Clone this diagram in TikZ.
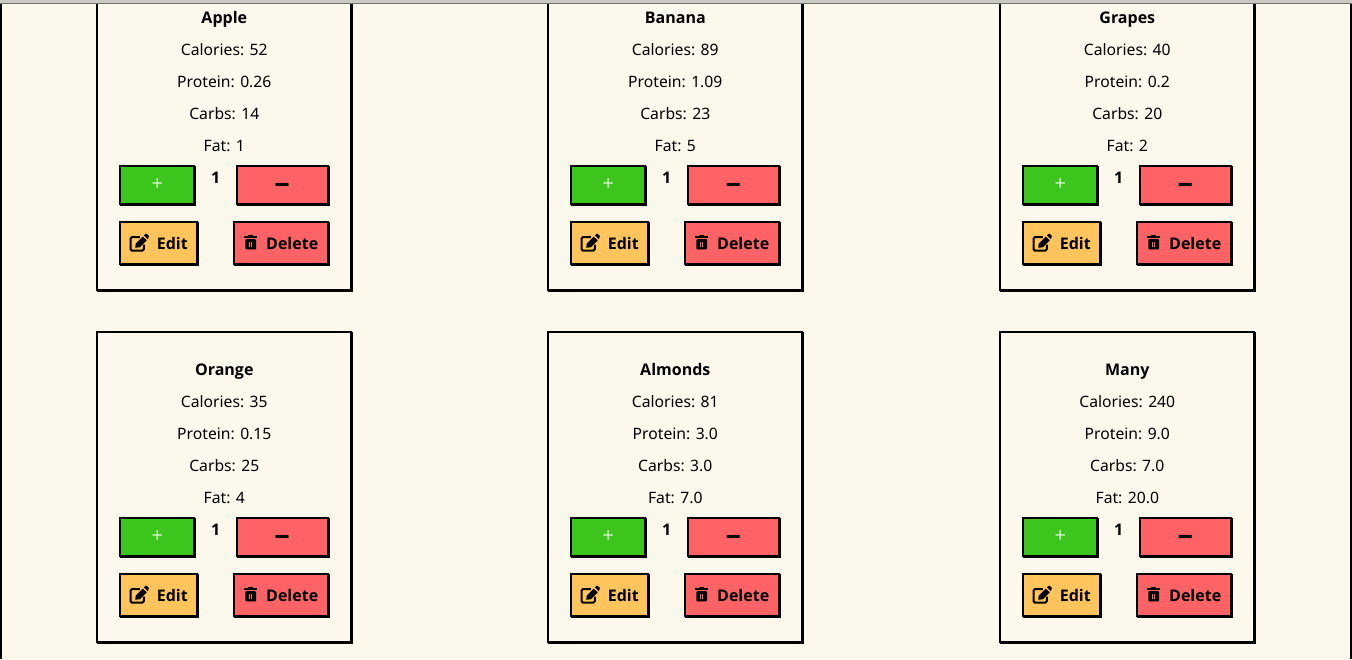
\documentclass[tikz,border=0pt]{standalone}
\usepackage{fontspec}
\setmainfont{Noto Sans}
\newfontfamily\heavysans{Open Sans}
\usetikzlibrary{shadows, positioning}

\definecolor{pagebg}{HTML}{FDF8EC}
\definecolor{addgreen}{HTML}{3CC51C}
\definecolor{delred}{HTML}{FF6366}
\definecolor{editorange}{HTML}{FFC45C}
\definecolor{pluswhite}{HTML}{D8F5CC}
\definecolor{topgrey}{HTML}{C9C9C2}

\begin{document}
\begin{tikzpicture}[
  x=1pt, y=-1pt,
  node distance = 16.2pt,
  card/.style    = {rectangle, draw=black, line width=2pt, fill=pagebg, outer sep=0pt,
                    minimum width=254pt, minimum height=310pt, anchor=north west,
                    general shadow={draw=black, line width=2pt, fill=black, shadow xshift=1pt, shadow yshift=-1pt}},
  btn/.style     = {rectangle, draw=black, line width=2pt, outer sep=0pt, inner sep=0pt,
                    anchor=north west, font=\fontsize{16}{19}\selectfont\heavysans\bfseries,
                    general shadow={draw=black, line width=2pt, fill=black, shadow xshift=1pt, shadow yshift=-1pt}},
  addbtn/.style  = {btn, fill=addgreen, text=pluswhite, minimum width=74pt, minimum height=38pt,
                    font=\fontsize{20}{20}\selectfont},
  subbtn/.style  = {btn, fill=delred, minimum width=91pt, minimum height=38pt},
  editbtn/.style = {btn, fill=editorange, minimum width=77pt, minimum height=42pt},
  delbtn/.style  = {btn, fill=delred, minimum width=94pt, minimum height=42pt},
  title/.style   = {font=\fontsize{16}{19}\selectfont\heavysans\bfseries, inner sep=0pt,
                    text height=12pt, text depth=3.5pt},
  info/.style    = {font=\fontsize{15.7}{19}\selectfont, inner sep=0pt,
                    text height=12pt, text depth=3.5pt},
  editicon/.pic  = {
    \draw[line width=2pt, rounded corners=1.5pt] (1,-6) -- (-8.3,-6) -- (-8.3,7.6) -- (5,7.6) -- (5,1.5);
    \fill (-3.6,4.6) -- (-3,0.6) -- (4,-6.4) -- (7.9,-2.6) -- (1,4.4) -- cycle;
    \fill (5.2,-7.6) -- (6.6,-9) -- (7.8,-9.2) -- (10,-7) -- (9.8,-5.8) -- (8.9,-3.8) -- cycle;
  },
  trashicon/.pic = {
    \fill (-6.3,-6.9) rectangle (6.3,-4.8);
    \fill (-2.6,-7.8) rectangle (2.6,-6);
    \fill[rounded corners=1pt] (-5.4,-3.9) rectangle (5.4,6.4);
    \fill[delred] (-1.7,-1.4) rectangle (-0.6,4);
    \fill[delred] (0.6,-1.4) rectangle (1.7,4);
  }
]
% Page
\useasboundingbox (0,0) rectangle (1352,659);
\clip (0,0) rectangle (1352,659);
\fill[pagebg] (0,0) rectangle (1352,659);
\fill[black] (0,0) rectangle (2,659);
\fill[black] (1350,0) rectangle (1352,659);

% Cards, row by row
\foreach \cx/\cy/\fname/\cal/\pro/\carb/\fatv/\cid in {
    97/-20/Apple/52/0.26/14/1/apple,
    548/-20/Banana/89/1.09/23/5/banana,
    1000/-20/Grapes/40/0.2/20/2/grapes,
    97/332/Orange/35/0.15/25/4/orange,
    548/332/Almonds/81/3.0/3.0/7.0/almonds,
    1000/332/Many/240/9.0/7.0/20.0/many} {
  \begin{scope}[shift={(\cx,\cy)}]
    \node[card] (card-\cid) at (0,0) {};
    % text lines
    \node[title] (name-\cid) at (127.3,39.2) {\fname};
    \node[info, below=of name-\cid] (cal-\cid)  {Calories: \cal};
    \node[info, below=of cal-\cid]  (pro-\cid)  {Protein: \pro};
    \node[info, below=of pro-\cid]  (carb-\cid) {Carbs: \carb};
    \node[info, below=of carb-\cid] (fat-\cid)  {Fat: \fatv};
    % counter row
    \node[addbtn] (add-\cid) at (23.3,186) {+};
    \node[title]  (count-\cid) at (118.7,199.2) {1};
    \node[subbtn] (sub-\cid) at (139.7,186) {\fontsize{27}{27}\selectfont\raisebox{-9.7pt}[0pt][0pt]{−}};
    % edit row
    \node[editbtn] (edit-\cid) at (23.3,242) {\hspace*{27pt}Edit};
    \node[delbtn]  (del-\cid) at (136.7,242) {\hspace*{23pt}Delete};
    \pic at ([xshift=18.5pt]edit-\cid.west) {editicon};
    \pic at ([xshift=17pt]del-\cid.west) {trashicon};
  \end{scope}
}

% Window edge
\fill[topgrey] (0,0) rectangle (1352,3);
\fill[black!55] (0,3) rectangle (1352,4);
\end{tikzpicture}
\end{document}
